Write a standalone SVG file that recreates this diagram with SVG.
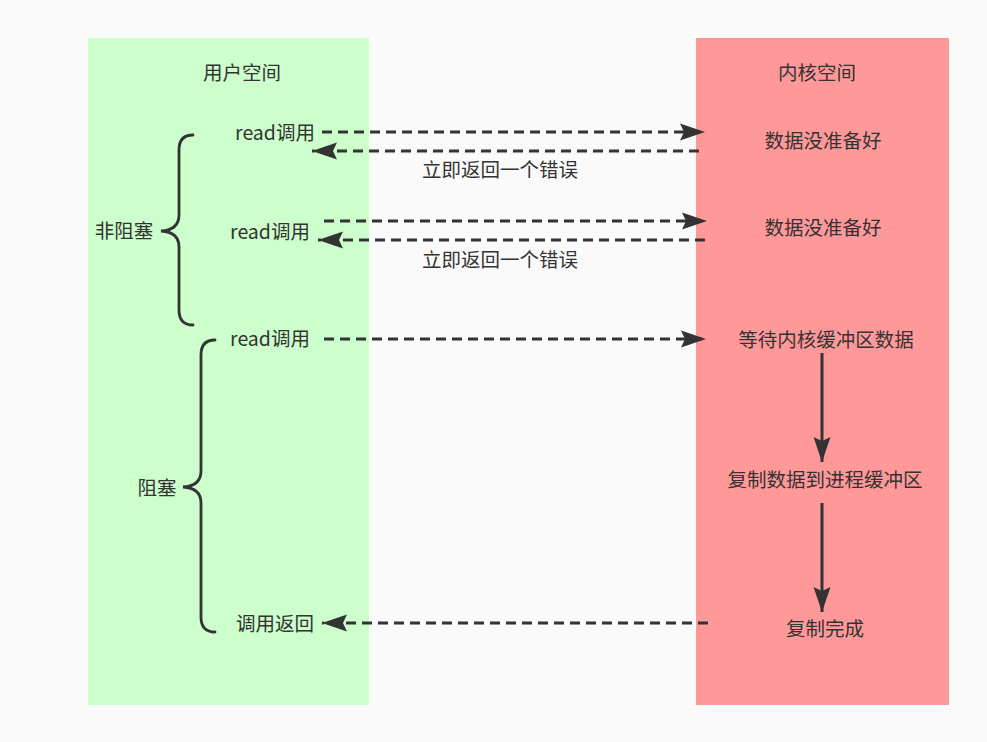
<svg xmlns="http://www.w3.org/2000/svg" width="987" height="742" viewBox="0 0 987 742">
<defs>
<style>
text{font-family:"Noto Sans CJK SC","Microsoft YaHei",sans-serif;font-size:19.5px;fill:#333;text-anchor:middle;dominant-baseline:central}
.d{stroke:#333;stroke-width:3;fill:none;stroke-dasharray:10 6}
.s{stroke:#333;stroke-width:3;fill:none}
.b{stroke:#333;stroke-width:2.8;fill:none;stroke-linecap:round}
</style>
<marker id="ah" markerUnits="userSpaceOnUse" markerWidth="26" markerHeight="20" viewBox="0 0 26 20" refX="25" refY="10" orient="auto">
<path d="M0,1.5 L25,10 L0,18.5 L4,10 Z" fill="#333"/>
</marker>
</defs>
<rect width="987" height="742" fill="#fafafa"/>
<g id="user-space">
<rect x="88" y="38" width="281" height="667" fill="#ccffcc"/>
<text x="242" y="71">用户空间</text>
</g>
<g id="kernel-space">
<rect x="696" y="38" width="253" height="667" fill="#ff9999"/>
<text x="817" y="71">内核空间</text>
</g>
<g id="n-read1"><text x="275" y="131">read调用</text></g>
<g id="n-read2"><text x="270" y="230">read调用</text></g>
<g id="n-read3"><text x="270" y="337">read调用</text></g>
<g id="n-ret"><text x="275" y="622">调用返回</text></g>
<g id="n-nonblock"><text x="124" y="229">非阻塞</text></g>
<g id="n-block"><text x="157" y="486">阻塞</text></g>
<g id="n-err1"><text x="500" y="168">立即返回一个错误</text></g>
<g id="n-err2"><text x="500" y="258">立即返回一个错误</text></g>
<g id="k-nodata1"><text x="823" y="139">数据没准备好</text></g>
<g id="k-nodata2"><text x="823" y="226">数据没准备好</text></g>
<g id="k-wait"><text x="826" y="338">等待内核缓冲区数据</text></g>
<g id="k-copy"><text x="825" y="478">复制数据到进程缓冲区</text></g>
<g id="k-done"><text x="825" y="627">复制完成</text></g>
<g id="braces">
<path class="b" d="M193,135 Q179,135 179,150 L179,215 Q179,230 161,231 Q179,232 179,247 L179,310 Q179,325 193,325"/>
<path class="b" d="M215,340 Q201,340 201,355 L201,471 Q201,486 183,487 Q201,488 201,503 L201,617 Q201,632 215,632"/>
</g>
<g id="connectors">
<line class="d" x1="322" y1="132" x2="705" y2="132" marker-end="url(#ah)"/>
<line class="d" x1="699" y1="151" x2="312" y2="151" marker-end="url(#ah)"/>
<line class="d" x1="324" y1="221" x2="707" y2="221" marker-end="url(#ah)"/>
<line class="d" x1="705" y1="240" x2="318" y2="240" marker-end="url(#ah)"/>
<line class="d" x1="324" y1="339" x2="706" y2="339" marker-end="url(#ah)"/>
<line class="d" x1="708" y1="623" x2="322" y2="623" marker-end="url(#ah)"/>
<line class="s" x1="822" y1="353" x2="822" y2="462" marker-end="url(#ah)"/>
<line class="s" x1="822" y1="503" x2="822" y2="612" marker-end="url(#ah)"/>
</g>
</svg>
